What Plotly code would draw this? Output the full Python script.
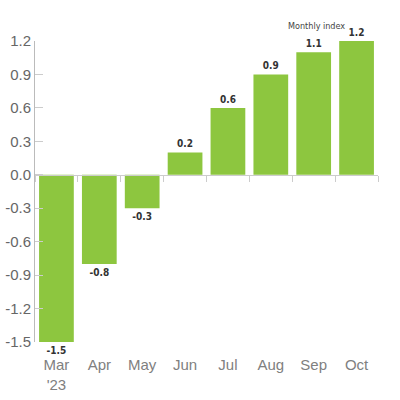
import plotly.graph_objects as go

months = ["Mar<br>'23", "Apr", "May", "Jun", "Jul", "Aug", "Sep", "Oct"]
values = [-1.5, -0.8, -0.3, 0.2, 0.6, 0.9, 1.1, 1.2]
labels = ["-1.5", "-0.8", "-0.3", "0.2", "0.6", "0.9", "1.1", "1.2"]
y_ticks = [-1.5, -1.2, -0.9, -0.6, -0.3, 0.0, 0.3, 0.6, 0.9, 1.2]
y_tick_text = ["-1.5", "-1.2", "-0.9", "-0.6", "-0.3", "0.0", "0.3", "0.6", "0.9", "1.2"]

y_min, y_max = -1.5, 1.2

label_font = "DejaVu Sans Condensed, Liberation Sans Narrow, sans-serif"

fig = go.Figure()

fig.add_trace(go.Bar(
    x=months,
    y=values,
    marker=dict(color="#8dc63f", line=dict(width=0)),
    text=labels,
    textposition="outside",
    cliponaxis=False,
    textfont=dict(family=label_font, size=10, color="#333333", weight="bold"),
    hoverinfo="skip",
))

# invisible copy so the zero line axis gets its category ticks
fig.add_trace(go.Scatter(
    x=months, y=values, xaxis="x2", mode="markers",
    marker=dict(opacity=0), hoverinfo="skip", showlegend=False,
))

fig.add_annotation(
    x="Sep", y=1.1, text="Monthly index", showarrow=False,
    yshift=26, xshift=3,
    font=dict(family=label_font, size=9, color="#444444"),
)

fig.update_layout(
    width=400, height=400,
    margin=dict(l=35, r=22, t=41, b=58),
    plot_bgcolor="white", paper_bgcolor="white",
    showlegend=False,
    bargap=0.19,
    font=dict(family="Liberation Sans, Arial, sans-serif", color="#666666"),
    xaxis=dict(
        showline=False, showgrid=False, zeroline=False, ticks="",
        tickfont=dict(size=15, color="#808080"),
        ticklabelstandoff=12,
        automargin=False,
    ),
    xaxis2=dict(
        overlaying="x", anchor="free", position=(0 - y_min) / (y_max - y_min),
        showline=True, linecolor="#cccccc", linewidth=1,
        ticks="outside", tickson="boundaries", ticklen=6, tickcolor="#cccccc",
        showticklabels=False, showgrid=False, zeroline=False,
        matches="x",
    ),
    yaxis=dict(
        range=[y_min, y_max],
        tickvals=y_ticks, ticktext=y_tick_text,
        showline=True, linecolor="#bbbbbb", linewidth=1,
        ticks="inside", ticklen=8, tickcolor="#cccccc",
        showgrid=False, zeroline=False,
        tickfont=dict(size=15, color="#666666"),
        automargin=False,
    ),
)

# drop the default page margin so the figure sits at the window corner
fig.write_html("out.html", config={"displayModeBar": False},
               post_script="document.body.style.margin = '0';")
